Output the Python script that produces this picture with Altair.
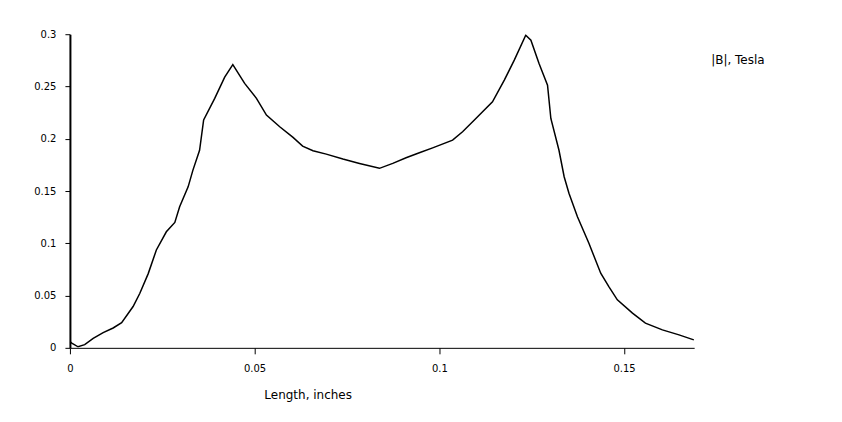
import altair as alt
import pandas as pd

length_in = [0.0, 0.0005, 0.0022, 0.004, 0.0063, 0.009, 0.0117, 0.014, 0.0171, 0.0189,
             0.0212, 0.0234, 0.0261, 0.0284, 0.0297, 0.032, 0.0333, 0.0351, 0.0362, 0.0392,
             0.0419, 0.0441, 0.0473, 0.0505, 0.0532, 0.0568, 0.0604, 0.063, 0.0658, 0.0694,
             0.0739, 0.0784, 0.0838, 0.0874, 0.091, 0.0946, 0.0982, 0.1036, 0.1063, 0.1099,
             0.1144, 0.1176, 0.1203, 0.1234, 0.1248, 0.127, 0.1293, 0.1302, 0.1324, 0.1338,
             0.1351, 0.1374, 0.1405, 0.1437, 0.1459, 0.1482, 0.1523, 0.1558, 0.1604, 0.1649,
             0.1689]
b_tesla = [0.006, 0.0045, 0.001, 0.003, 0.009, 0.0146, 0.019, 0.024, 0.0395, 0.052,
           0.071, 0.0936, 0.111, 0.120, 0.135, 0.154, 0.170, 0.189, 0.218, 0.2386,
           0.259, 0.271, 0.253, 0.2386, 0.2226, 0.2115, 0.2013, 0.193, 0.1885, 0.1853,
           0.1806, 0.1764, 0.1717, 0.1764, 0.1818, 0.1866, 0.1913, 0.1987, 0.2067, 0.2194,
           0.2353, 0.2561, 0.2752, 0.299, 0.2943, 0.272, 0.2513, 0.2194, 0.189, 0.1637,
           0.1478, 0.1254, 0.1000, 0.0714, 0.0586, 0.0459, 0.0332, 0.0236, 0.0172, 0.0124,
           0.0076]
x_ticks = [0, 0.05, 0.1, 0.15]
y_ticks = [0, 0.05, 0.1, 0.15, 0.2, 0.25, 0.3]
series_name = "|B|, Tesla"

df = pd.DataFrame({"x": length_in, "y": b_tesla})

FONT = "DejaVu Sans"

line = alt.Chart(df).mark_line(color="black", strokeWidth=1.5, clip=True).encode(
    x=alt.X("x:Q",
            scale=alt.Scale(domain=[0, 0.169], nice=False, zero=False),
            axis=alt.Axis(values=x_ticks, title="Length, inches", grid=False,
                          domainColor="black", domainWidth=1, tickColor="black",
                          tickSize=6, labelColor="black", labelFont=FONT, labelFontSize=10,
                          labelPadding=10, labelFlush=False, format="~g",
                          titleFont=FONT, titleFontSize=12, titleFontWeight="normal",
                          titleColor="black", titleAlign="center", titleX=238, titleY=51,
                          titleBaseline="alphabetic")),
    y=alt.Y("y:Q",
            scale=alt.Scale(domain=[0, 0.3], nice=False),
            axis=alt.Axis(values=y_ticks, title=None, grid=False,
                          domainColor="black", domainWidth=2, tickColor="black",
                          tickSize=5, labelColor="black", labelFont=FONT, labelFontSize=10,
                          labelPadding=9, labelFlush=False, format="~g")),
)

legend = alt.Chart(pd.DataFrame({"t": [series_name]})).mark_text(
    font=FONT, fontSize=12, color="black", align="left", baseline="middle"
).encode(text="t:N", x=alt.value(642), y=alt.value(26))

chart = alt.layer(line, legend).properties(
    width=625, height=314,
    autosize=alt.AutoSizeParams(type="none"),
    padding={"left": 62, "top": 26, "right": 140, "bottom": 60},
    background="white",
).configure_view(stroke=None)

chart.save("out.html", embed_options={"renderer": "svg", "actions": False})
